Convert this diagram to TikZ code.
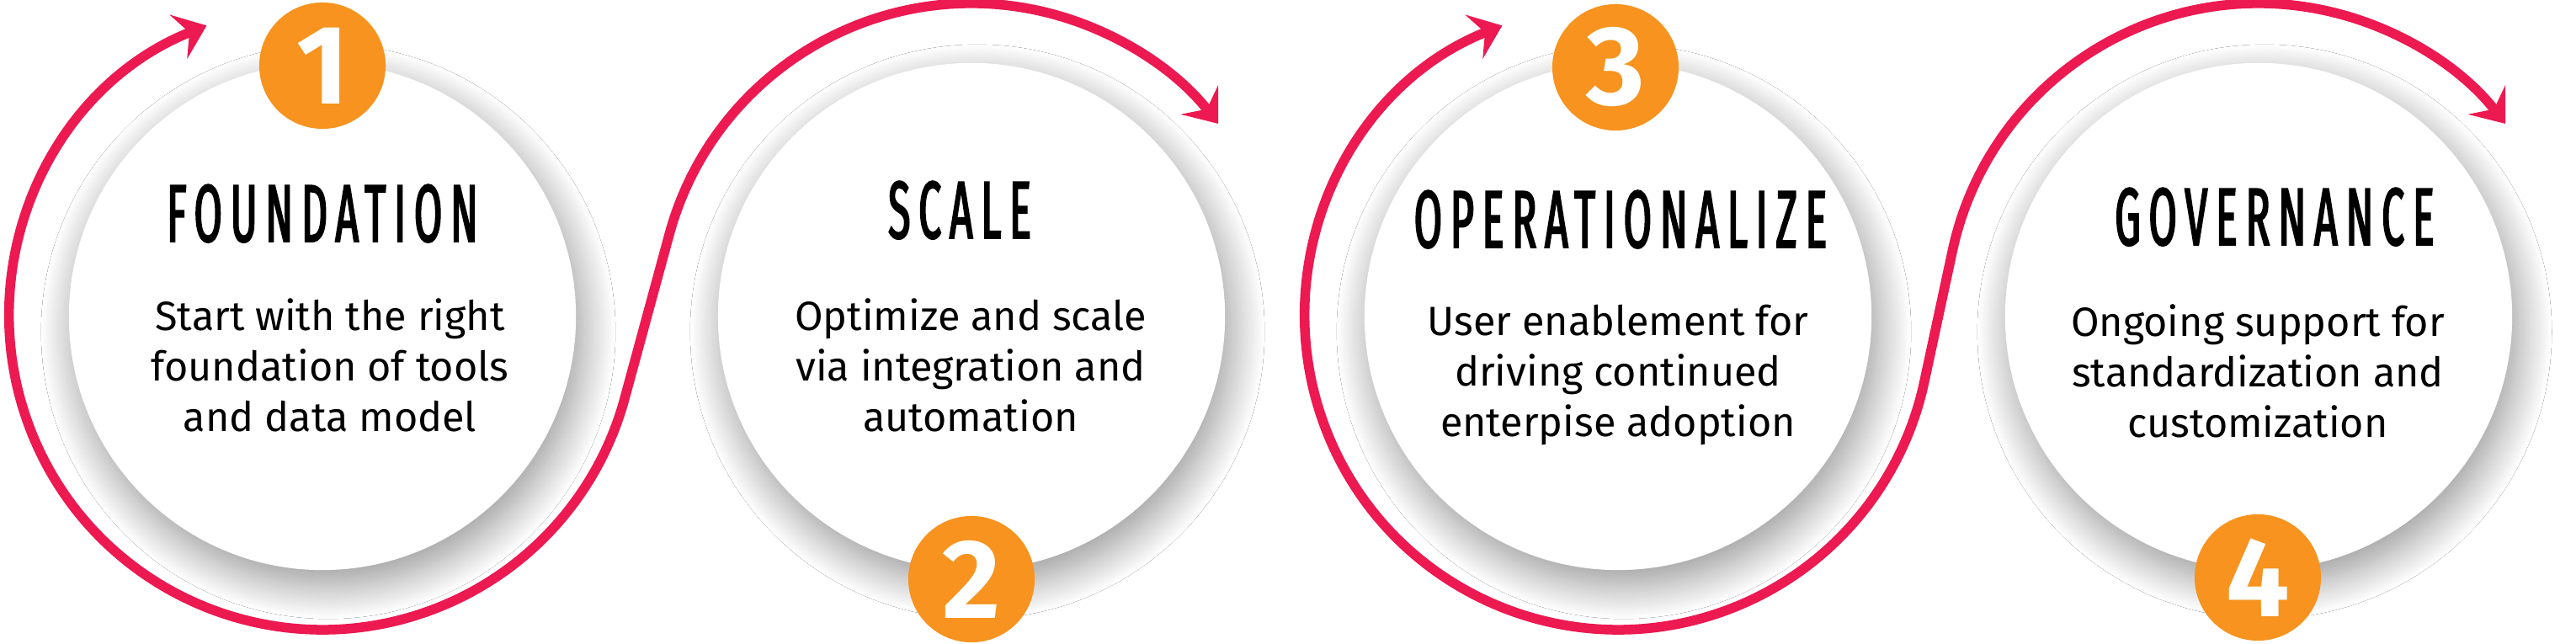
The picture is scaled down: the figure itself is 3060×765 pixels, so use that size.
\documentclass[tikz,border=0pt]{standalone}
\usepackage{fontspec}
\usetikzlibrary{arrows.meta,shadows.blur,calc}
\setmainfont{Fira Sans}
\newfontfamily\titlefont{Fira Sans}[FakeStretch=0.5,LetterSpace=10,FakeBold=2]
\newfontfamily\bodyfont{Fira Sans}
\newfontfamily\numfont{Fira Sans}
\definecolor{flowred}{RGB}{237,25,81}
\definecolor{badgeorange}{RGB}{247,147,30}
\begin{document}
\begin{tikzpicture}[x=0.01cm,y=-0.01cm,
  panel/.style={circle, fill=white, minimum size=6.02cm, inner sep=0pt,
    blur shadow={shadow xshift=0.07cm, shadow yshift=-0.18cm, shadow blur radius=0.4cm, shadow opacity=42, shadow blur steps=30}},
  badge/.style={circle, fill=badgeorange, minimum size=1.5cm, inner sep=0pt, text=white,
    font=\numfont\bfseries\fontsize{38}{38}\selectfont},
  flow/.style={draw=flowred, line width=0.115cm,
    {Stealth[length=0.36cm,width=0.56cm,inset=0.14cm]}-{Stealth[length=0.36cm,width=0.56cm,inset=0.14cm]}},
  title/.style={anchor=base, inner sep=0pt, font=\titlefont\fontsize{27.5}{30}\selectfont},
  body/.style={anchor=base, inner sep=0pt, align=center, font=\bodyfont\fontsize{13.8}{17.07}\selectfont}]
\useasboundingbox (0,0) rectangle (3060,765);
\fill[white] (0,0) rectangle (3060,765);
% panels
\node[panel] (c1) at (383,376) {};
\node[panel] (c2) at (1154,376) {};
\node[panel] (c3) at (1922,376) {};
\node[panel] (c4) at (2683,376) {};
% flow curves
\coordinate (s1) at ($(c1.center)+(248.3:372)$);
\coordinate (t1) at ($(c2.center)+(195.2:372)$);
\coordinate (s2) at ($(c3.center)+(248.3:372)$);
\coordinate (t2) at ($(c4.center)+(192.14:372)$);
\draw[flow] (s1) arc[start angle=248.3, end angle=15.2, radius=372] -- (t1)
  arc[start angle=195.2, end angle=322, radius=372];
\draw[flow] (s2) arc[start angle=248.3, end angle=12.14, radius=372] -- (t2)
  arc[start angle=192.14, end angle=322, radius=372];
% badges
\node[badge] (b1) at (383,78) {1};
\node[badge] (b2) at (1154,688) {2};
\node[badge] (b3) at (1919,80) {3};
\node[badge] (b4) at (2682,686) {4};
% titles
\node[title] (h1) at (383,287) {FOUNDATION};
\node[title] (h2) at (1140,283) {SCALE};
\node[title] (h3) at (1925,294) {OPERATIONALIZE};
\node[title] (h4) at (2702,291) {GOVERNANCE};
% body texts (base anchor = baseline of last line)
\node[body] (d1) at (392,513) {Start with the right\\foundation of tools\\and data model};
\node[body] (d2) at (1153,513) {Optimize and scale\\via integration and\\automation};
\node[body] (d3) at (1922,519) {User enablement for\\driving continued\\enterpise adoption};
\node[body] (d4) at (2682,520) {Ongoing support for\\standardization and\\customization};
\end{tikzpicture}
\end{document}
